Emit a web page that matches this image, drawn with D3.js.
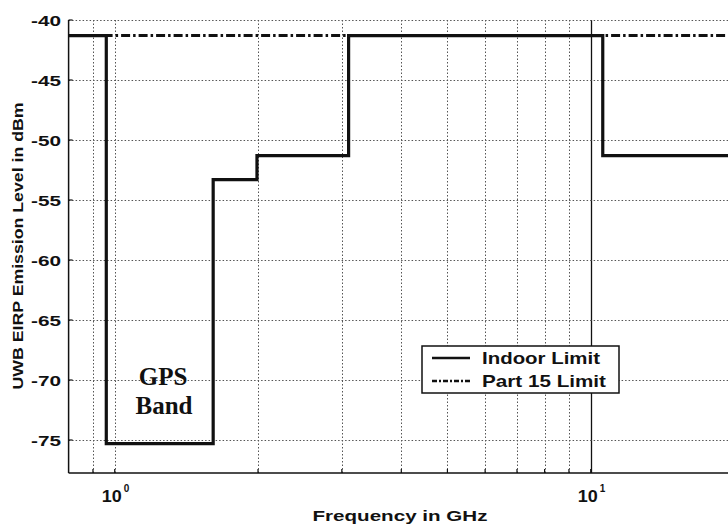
<!DOCTYPE html>
<html>
<head>
<meta charset="utf-8">
<script src="https://cdn.jsdelivr.net/npm/d3@7"></script>
<style>
  body { margin: 0; background: #fff; }
  svg { display: block; }
</style>
</head>
<body>
<div id="chart"></div>
<script>
// FCC UWB indoor emission mask vs Part 15 limit
const bandEdges = [0.8, 0.96, 1.61, 1.99, 3.1, 10.6, 20];   // GHz
const indoorLimit = [-41.3, -75.3, -53.3, -51.3, -41.3, -51.3]; // dBm, one per band
const part15Freq = [0.8, 20];
const part15Limit = [-41.3, -41.3];
const xGrid = [0.9, 1, 2, 3, 4, 5, 6, 7, 8, 9, 10, 20];
const xTickLabels = [{ f: 1, exp: '0' }, { f: 10, exp: '1' }];
const yTicks = [-40, -45, -50, -55, -60, -65, -70, -75];
const legendItems = ['Indoor Limit', 'Part 15 Limit'];

const width = 728, height = 528;
const plotLeft = 68.6, plotRight = 734, plotTop = 20, plotBottom = 473;

const svg = d3.select('#chart').append('svg')
    .attr('width', width)
    .attr('height', height);

const x = d3.scaleLog().domain([0.8, 20]).range([plotLeft, plotRight]);
const y = d3.scaleLinear().domain([-77.75, -40]).range([plotBottom, plotTop]);

const sans = 'Liberation Sans, Arial, sans-serif';

// grid (dotted)
svg.append('g')
    .selectAll('line')
    .data(xGrid)
    .enter().append('line')
    .attr('x1', d => Math.round(x(d)) + 0.5).attr('x2', d => Math.round(x(d)) + 0.5)
    .attr('y1', plotTop).attr('y2', plotBottom)
    .attr('stroke', d => d === 10 ? '#111' : '#555')
    .attr('stroke-width', d => d === 10 ? 1.3 : 1)
    .attr('stroke-dasharray', d => d === 10 ? null : '1.5,2');

svg.append('g')
    .selectAll('line')
    .data(yTicks)
    .enter().append('line')
    .attr('x1', plotLeft).attr('x2', plotRight)
    .attr('y1', d => Math.round(y(d)) + 0.5).attr('y2', d => Math.round(y(d)) + 0.5)
    .attr('stroke', '#555')
    .attr('stroke-width', 1)
    .attr('stroke-dasharray', '1.5,2');

// axes lines
svg.append('line')
    .attr('x1', plotLeft).attr('x2', plotLeft)
    .attr('y1', plotTop).attr('y2', plotBottom)
    .attr('stroke', '#111').attr('stroke-width', 1.5);
svg.append('line')
    .attr('x1', plotLeft).attr('x2', plotRight)
    .attr('y1', plotBottom).attr('y2', plotBottom)
    .attr('stroke', '#111').attr('stroke-width', 1.5);

// ticks (inward)
svg.append('g').selectAll('line')
    .data(yTicks)
    .enter().append('line')
    .attr('x1', plotLeft).attr('x2', plotLeft + 4)
    .attr('y1', d => y(d)).attr('y2', d => y(d))
    .attr('stroke', '#111').attr('stroke-width', 1.2);
svg.append('g').selectAll('line')
    .data(xGrid)
    .enter().append('line')
    .attr('x1', d => x(d)).attr('x2', d => x(d))
    .attr('y1', plotBottom).attr('y2', plotBottom - 4)
    .attr('stroke', '#111').attr('stroke-width', 1.2);

// y tick labels
svg.append('g').selectAll('text')
    .data(yTicks)
    .enter().append('text')
    .attr('x', 61)
    .attr('y', d => y(d) + 5.5)
    .attr('text-anchor', 'end')
    .attr('font-family', sans)
    .attr('font-weight', 'bold')
    .attr('font-size', 15.5)
    .attr('textLength', 30)
    .attr('lengthAdjust', 'spacingAndGlyphs')
    .attr('fill', '#111')
    .text(d => d);

// x tick labels 10^n
const xl = svg.append('g').selectAll('g')
    .data(xTickLabels)
    .enter().append('g');
xl.append('text')
    .attr('x', d => x(d.f) - 13)
    .attr('y', 502)
    .attr('font-family', sans)
    .attr('font-weight', 'bold')
    .attr('font-size', 16)
    .attr('textLength', 20)
    .attr('lengthAdjust', 'spacingAndGlyphs')
    .attr('fill', '#111')
    .text('10');
xl.append('text')
    .attr('x', d => x(d.f) + 9)
    .attr('y', 492)
    .attr('font-family', sans)
    .attr('font-weight', 'bold')
    .attr('font-size', 10)
    .attr('fill', '#111')
    .text(d => d.exp);

// axis titles
svg.append('text')
    .attr('x', 400)
    .attr('y', 521)
    .attr('text-anchor', 'middle')
    .attr('font-family', sans)
    .attr('font-weight', 'bold')
    .attr('font-size', 15)
    .attr('textLength', 175)
    .attr('lengthAdjust', 'spacingAndGlyphs')
    .attr('fill', '#111')
    .text('Frequency in GHz');

svg.append('text')
    .attr('transform', 'translate(23,246) rotate(-90)')
    .attr('text-anchor', 'middle')
    .attr('font-family', sans)
    .attr('font-weight', 'bold')
    .attr('font-size', 15)
    .attr('textLength', 287)
    .attr('lengthAdjust', 'spacingAndGlyphs')
    .attr('fill', '#111')
    .text('UWB EIRP Emission Level in dBm');

// Part 15 limit (dash-dot)
const line = d3.line().x(d => x(d[0])).y(d => y(d[1]));
svg.append('path')
    .datum(part15Freq.map((f, i) => [f, part15Limit[i]]))
    .attr('d', line)
    .attr('fill', 'none')
    .attr('stroke', '#111')
    .attr('stroke-width', 3)
    .attr('stroke-dasharray', '9,3,2.5,3');

// Indoor limit (step)
const indoorPts = indoorLimit.map((v, i) => [bandEdges[i], v]);
indoorPts.push([bandEdges[bandEdges.length - 1], indoorLimit[indoorLimit.length - 1]]);
svg.append('path')
    .datum(indoorPts)
    .attr('d', line.curve(d3.curveStepAfter))
    .attr('fill', 'none')
    .attr('stroke', '#111')
    .attr('stroke-width', 3.2)
    .attr('stroke-linejoin', 'miter');

// GPS band annotation
const gps = svg.append('text')
    .attr('text-anchor', 'middle')
    .attr('font-family', 'Liberation Serif, Times New Roman, serif')
    .attr('font-weight', 'bold')
    .attr('font-size', 25)
    .attr('fill', '#111');
gps.append('tspan').attr('x', 163).attr('y', 385).text('GPS');
gps.append('tspan').attr('x', 164).attr('y', 414).text('Band');

// legend
const lg = svg.append('g');
lg.append('rect')
    .attr('x', 422).attr('y', 346)
    .attr('width', 197).attr('height', 47)
    .attr('fill', '#fff')
    .attr('stroke', '#111')
    .attr('stroke-width', 1.5);
lg.selectAll('line')
    .data(legendItems)
    .enter().append('line')
    .attr('x1', 432).attr('x2', 470)
    .attr('y1', (d, i) => 358 + i * 23).attr('y2', (d, i) => 358 + i * 23)
    .attr('stroke', '#111')
    .attr('stroke-width', 2.5)
    .attr('stroke-dasharray', (d, i) => i ? '5,2,2,2' : null);
lg.selectAll('text')
    .data(legendItems)
    .enter().append('text')
    .attr('x', 482)
    .attr('y', (d, i) => 364 + i * 23)
    .attr('font-family', sans)
    .attr('font-weight', 'bold')
    .attr('font-size', 17)
    .attr('textLength', (d, i) => i ? 124 : 118)
    .attr('lengthAdjust', 'spacingAndGlyphs')
    .attr('fill', '#111')
    .text(d => d);
</script>
</body>
</html>
